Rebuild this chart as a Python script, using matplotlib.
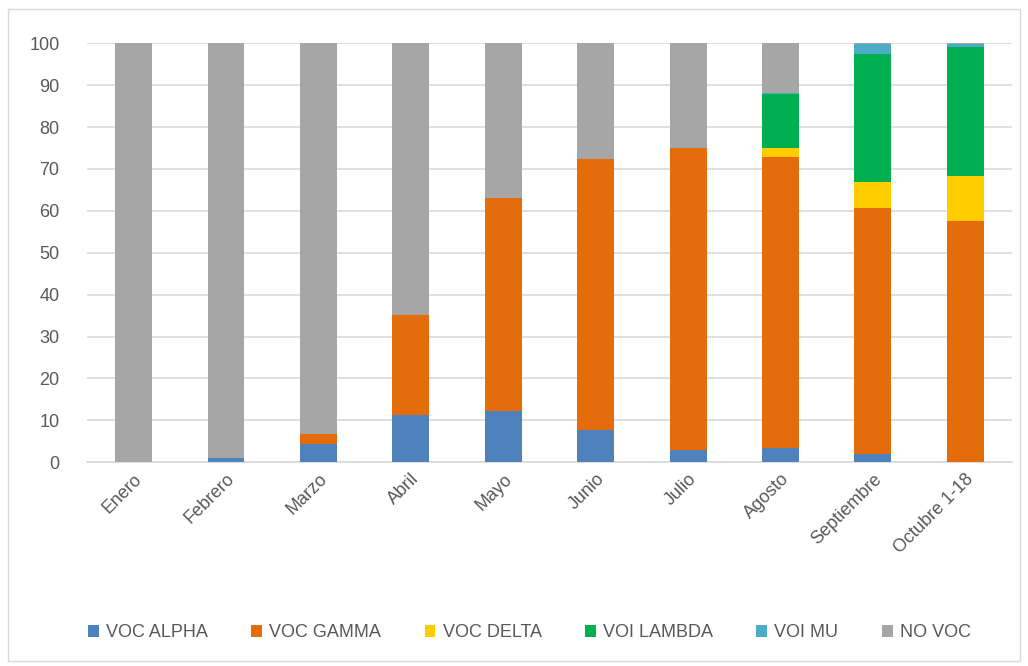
import matplotlib
matplotlib.use('Agg')
import matplotlib.pyplot as plt
from matplotlib.patches import Rectangle

months = ['Enero', 'Febrero', 'Marzo', 'Abril', 'Mayo', 'Junio', 'Julio',
          'Agosto', 'Septiembre', 'Octubre 1-18']

voc_alpha = [0, 1.0, 4.3, 11.2, 12.2, 7.7, 2.9, 3.4, 1.9, 0]
voc_gamma = [0, 0, 2.4, 23.9, 50.8, 64.7, 72.0, 69.5, 58.8, 57.6]
voc_delta = [0, 0, 0, 0, 0, 0, 0, 2.0, 6.2, 10.8]
voi_lambda = [0, 0, 0, 0, 0, 0, 0, 12.9, 30.5, 30.6]
voi_mu = [0, 0, 0, 0, 0, 0, 0, 0.3, 2.5, 0.9]
no_voc = [100, 99.0, 93.3, 64.9, 37.0, 27.6, 25.1, 11.9, 0.1, 0.1]

series = [
    ('VOC ALPHA', voc_alpha, '#4F81BD'),
    ('VOC GAMMA', voc_gamma, '#E46C0A'),
    ('VOC DELTA', voc_delta, '#FFCC00'),
    ('VOI LAMBDA', voi_lambda, '#00B050'),
    ('VOI MU', voi_mu, '#4BACC6'),
    ('NO VOC', no_voc, '#A6A6A6'),
]

plt.rcParams['font.family'] = ['Liberation Sans', 'DejaVu Sans']

fig = plt.figure(figsize=(10.28, 6.66), dpi=100)
ax = fig.add_axes([0.085, 0.306, 0.899, 0.629])

x = list(range(len(months)))
bottom = [0] * len(months)
for name, vals, col in series:
    ax.bar(x, vals, bottom=bottom, width=0.4, color=col, label=name, zorder=3)
    bottom = [b + v for b, v in zip(bottom, vals)]

ax.set_xlim(-0.5, len(months) - 0.5)
ax.set_ylim(0, 100)
ax.set_yticks(range(0, 101, 10))
ax.yaxis.grid(True, color='#D9D9D9', linewidth=1.2, zorder=0)
for s in ['top', 'right', 'left']:
    ax.spines[s].set_visible(False)
ax.spines['bottom'].set_color('#D9D9D9')
ax.spines['bottom'].set_linewidth(1.2)
ax.tick_params(axis='both', length=0, colors='#595959', labelsize=13)
ax.tick_params(axis='y', pad=20)
ax.tick_params(axis='x', pad=6)
ax.set_xticks(x)
ax.set_xticklabels(months, rotation=45, ha='right', rotation_mode='anchor')

leg = fig.legend(loc='center', bbox_to_anchor=(0.515, 0.05), ncol=6, frameon=False,
                 fontsize=13, handlelength=0.6, handleheight=0.6, columnspacing=2.4,
                 handletextpad=0.4)
for t in leg.get_texts():
    t.set_color('#595959')

fig.patches.append(Rectangle((0.008, 0.008), 0.984, 0.978, transform=fig.transFigure,
                             fill=False, edgecolor='#D9D9D9', linewidth=1))

fig.savefig('out.png', dpi=100)
